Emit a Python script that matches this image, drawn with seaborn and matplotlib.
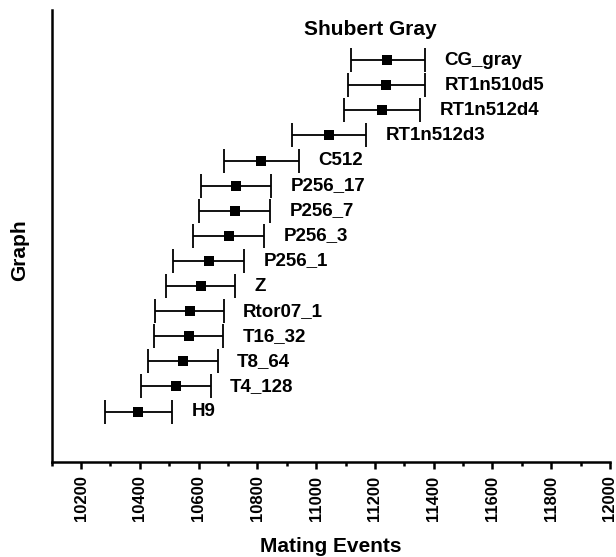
import matplotlib
matplotlib.use("Agg")
import matplotlib.pyplot as plt
import seaborn as sns
import numpy as np
import pandas as pd
from matplotlib.ticker import MultipleLocator

# ---- data (bottom to top) ----
graphs = ["H9", "T4_128", "T8_64", "T16_32", "Rtor07_1", "Z", "P256_1",
          "P256_3", "P256_7", "P256_17", "C512", "RT1n512d3", "RT1n512d4",
          "RT1n510d5", "CG_gray"]
means = [10395, 10522, 10547, 10567, 10570, 10608, 10635,
         10703, 10723, 10728, 10813, 11043, 11223, 11239, 11242]
lows = [10280, 10405, 10427, 10449, 10453, 10490, 10514,
        10582, 10602, 10609, 10688, 10918, 11094, 11109, 11117]
highs = [10510, 10641, 10665, 10684, 10685, 10725, 10756,
         10822, 10843, 10848, 10942, 11169, 11353, 11371, 11371]
title_text = "Shubert Gray"
xticks = [10200, 10400, 10600, 10800, 11000, 11200, 11400, 11600, 11800, 12000]

df = pd.DataFrame({"graph": graphs, "mean": means, "low": lows, "high": highs})
df["pos"] = np.arange(len(df))

sns.set_theme(style="ticks", rc={"text.color": "black", "axes.labelcolor": "black",
                                 "xtick.color": "black", "ytick.color": "black",
                                 "axes.edgecolor": "black"})
plt.rcParams["font.family"] = ["Liberation Sans", "DejaVu Sans"]
plt.rcParams["font.weight"] = "bold"

W, H = 616, 557
fig = plt.figure(figsize=(W / 100, H / 100), dpi=100)
left, right, top, bottom = 51.7, 610, 10, 461.7
ax = fig.add_axes([left / W, 1 - bottom / H, (right - left) / W, (bottom - top) / H])

ax.errorbar(df["mean"], df["pos"],
            xerr=[df["mean"] - df["low"], df["high"] - df["mean"]],
            fmt="none", ecolor="black", elinewidth=1.3, capsize=8.5, capthick=1.3)
sns.scatterplot(data=df, x="mean", y="pos", marker="s", color="black",
                s=42, edgecolor="black", linewidth=0, ax=ax, zorder=3)

for _, r in df.iterrows():
    ax.annotate(r["graph"], xy=(r["high"], r["pos"]), xytext=(14, 0),
                textcoords="offset points", va="center", ha="left",
                fontsize=13.5, fontweight="bold", color="black")

ax.text(11183, 15.23, title_text, ha="center", va="center",
        fontsize=15, fontweight="bold", color="black")

ax.set_xlim(10100, 12000)
ax.set_ylim(-2, 16)
ax.set_xticks(xticks)
ax.xaxis.set_minor_locator(MultipleLocator(100))
ax.set_xticklabels([str(t) for t in xticks], rotation=90, fontsize=12, fontweight="bold")
ax.set_yticks([])
ax.tick_params(axis="x", which="major", length=5, width=1.8, direction="out", pad=5)
ax.tick_params(axis="x", which="minor", length=3, width=1.8, direction="out")
for s in ["top", "right"]:
    ax.spines[s].set_visible(False)
for s in ["left", "bottom"]:
    ax.spines[s].set_linewidth(1.8)

ax.set_xlabel("")
ax.set_ylabel("")
fig.text((left + right) / 2 / W, 1 - 552 / H, "Mating Events", ha="center",
         va="baseline", fontsize=15, fontweight="bold", color="black")
fig.text(20 / W, 1 - 250 / H, "Graph", ha="center", va="center", rotation=90,
         fontsize=15, fontweight="bold", color="black")

fig.savefig("out.png", dpi=100)
